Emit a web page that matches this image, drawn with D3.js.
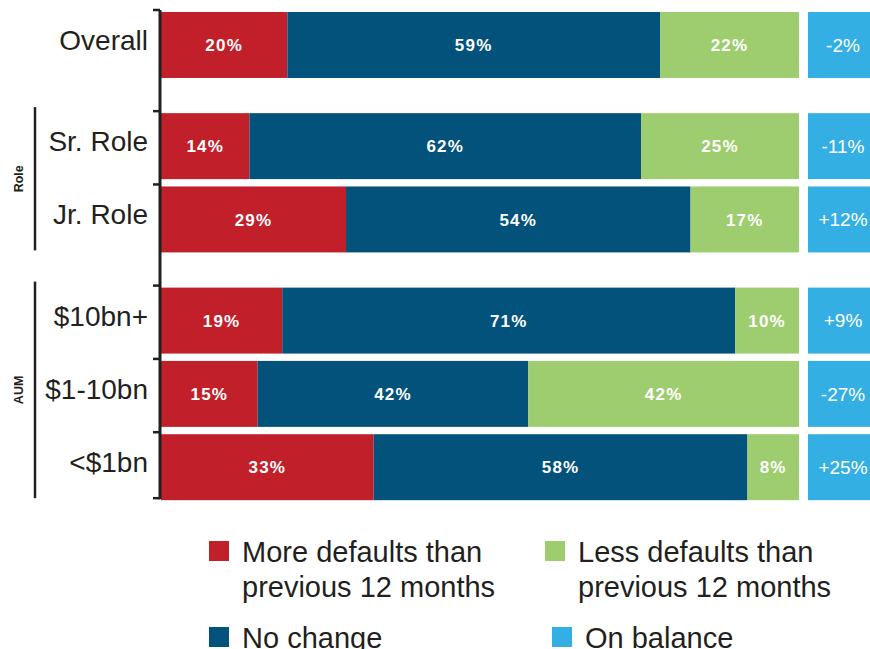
<!DOCTYPE html>
<html>
<head>
<meta charset="utf-8">
<script src="https://cdn.jsdelivr.net/npm/d3@7/dist/d3.min.js"></script>
<style>
  html, body { margin: 0; padding: 0; background: #fff; }
  svg { display: block; }
  text { font-family: Helvetica, Arial, "Liberation Sans", sans-serif; }
</style>
</head>
<body>
<div id="chart"></div>
<script>
// Survey responses: change in defaults vs previous 12 months
const categories = ["Overall", "Sr. Role", "Jr. Role", "$10bn+", "$1-10bn", "<$1bn"];
const groups     = ["", "Role", "Role", "AUM", "AUM", "AUM"];
const moreDefaults = [20, 14, 29, 19, 15, 33];
const noChange     = [59, 62, 54, 71, 42, 58];
const lessDefaults = [22, 25, 17, 10, 42, 8];
const onBalance    = ["-2%", "-11%", "+12%", "+9%", "-27%", "+25%"];

const seriesKeys   = ["more", "same", "less"];
const seriesColors = { more: "#C1202A", same: "#02527C", less: "#9ECD6F", balance: "#34AFE3" };
const legendItems = [
  { key: "more",    lines: ["More defaults than", "previous 12 months"] },
  { key: "less",    lines: ["Less defaults than", "previous 12 months"] },
  { key: "same",    lines: ["No change"] },
  { key: "balance", lines: ["On balance"] }
];

const W = 870, H = 649;
const svg = d3.select("#chart").append("svg").attr("width", W).attr("height", H);

const rows = categories.map((c, i) => ({
  name: c, group: groups[i],
  more: moreDefaults[i], same: noChange[i], less: lessDefaults[i],
  balance: onBalance[i]
}));

// vertical slots: one per row, with an extra gap whenever the group changes
const groupGap = 0.38, bandFrac = 0.9;
const groupOrder = Array.from(new Set(groups));
rows.forEach((r, i) => { r.slot = i + groupOrder.indexOf(r.group) * groupGap; });
const lastSlot = d3.max(rows, r => r.slot) + 1;
const y = d3.scaleLinear().domain([0, lastSlot]).range([12, 12 + lastSlot * 73.3]);
const bandH = y(bandFrac) - y(0);

const x = d3.scaleLinear().domain([0, 1]).range([161, 799]);

const stacked = d3.stack().keys(seriesKeys).offset(d3.stackOffsetExpand)(rows);

// stacked bars
const layers = svg.append("g").selectAll("g").data(stacked).join("g")
  .attr("fill", d => seriesColors[d.key]);
layers.selectAll("rect").data(d => d).join("rect")
  .attr("x", d => x(d[0]))
  .attr("y", d => y(d.data.slot))
  .attr("width", d => x(d[1]) - x(d[0]))
  .attr("height", bandH);

// segment labels
const labels = svg.append("g");
stacked.forEach(layer => {
  labels.selectAll(null).data(layer).join("text")
    .attr("x", d => (x(d[0]) + x(d[1])) / 2)
    .attr("y", d => y(d.data.slot) + bandH / 2)
    .attr("dy", "0.36em")
    .attr("text-anchor", "middle")
    .attr("fill", "#fff")
    .attr("font-weight", "bold")
    .attr("font-size", 17)
    .attr("letter-spacing", 1.2)
    .text(d => d.data[layer.key] + "%");
});

// on-balance boxes
const bal = svg.append("g");
bal.selectAll("rect").data(rows).join("rect")
  .attr("x", 808).attr("width", 70)
  .attr("y", d => y(d.slot)).attr("height", bandH)
  .attr("fill", seriesColors.balance);
bal.selectAll("text").data(rows).join("text")
  .attr("x", 843)
  .attr("y", d => y(d.slot) + bandH / 2)
  .attr("dy", "0.36em")
  .attr("text-anchor", "middle")
  .attr("fill", "#fff")
  .attr("font-size", 19)
  .text(d => d.balance);

// category axis: spine with ticks at row edges
const axisG = svg.append("g").attr("stroke", "#231F20");
const yTop = y(0) - 2, yBot = y(rows[rows.length - 1].slot) + bandH - 1;
axisG.append("line").attr("x1", 160).attr("x2", 160)
  .attr("y1", yTop).attr("y2", yBot).attr("stroke-width", 3);
const tickYs = rows.filter((r, i) => i === 0 || rows[i - 1].group === r.group || r.group !== "" )
  .map(r => y(r.slot) - 2);
tickYs.push(yBot - 1);
axisG.selectAll("line.tick").data(tickYs).join("line")
  .attr("class", "tick")
  .attr("x1", 153).attr("x2", 160)
  .attr("y1", d => d).attr("y2", d => d)
  .attr("stroke-width", 2.5);

// category labels
svg.append("g").selectAll("text").data(rows).join("text")
  .attr("x", 148)
  .attr("y", d => y(d.slot) + bandH / 2 + 5)
  .attr("text-anchor", "end")
  .attr("fill", "#231F20")
  .attr("font-size", 28)
  .text(d => d.name);

// group brackets
const groupSpans = d3.groups(rows.filter(r => r.group !== ""), r => r.group).map(([g, rs]) => ({
  name: g,
  y0: y(rs[0].slot) - 6,
  y1: y(rs[rs.length - 1].slot) + bandH - 2
}));
const gb = svg.append("g");
gb.selectAll("line").data(groupSpans).join("line")
  .attr("x1", 35).attr("x2", 35)
  .attr("y1", d => d.y0).attr("y2", d => d.y1)
  .attr("stroke", "#231F20").attr("stroke-width", 2.5);
gb.selectAll("text").data(groupSpans).join("text")
  .attr("transform", d => `translate(18,${(d.y0 + d.y1) / 2}) rotate(-90)`)
  .attr("text-anchor", "middle")
  .attr("dy", "0.36em")
  .attr("font-size", 12.5)
  .attr("font-weight", "bold")
  .attr("fill", "#231F20")
  .text(d => d.name);

// legend
const legendPos = [[209, 541], [545, 541], [209, 627], [552, 627]];
const lg = svg.append("g").selectAll("g").data(legendItems).join("g")
  .attr("transform", (d, i) => `translate(${legendPos[i][0]},${legendPos[i][1]})`);
lg.append("rect").attr("width", 20).attr("height", 20)
  .attr("fill", d => seriesColors[d.key]);
lg.each(function(d) {
  const t = d3.select(this).append("text")
    .attr("x", 33).attr("y", 21)
    .attr("font-size", 29)
    .attr("fill", "#231F20");
  d.lines.forEach((ln, j) => t.append("tspan").attr("x", 33).attr("dy", j === 0 ? 0 : 35).text(ln));
});
</script>
</body>
</html>
